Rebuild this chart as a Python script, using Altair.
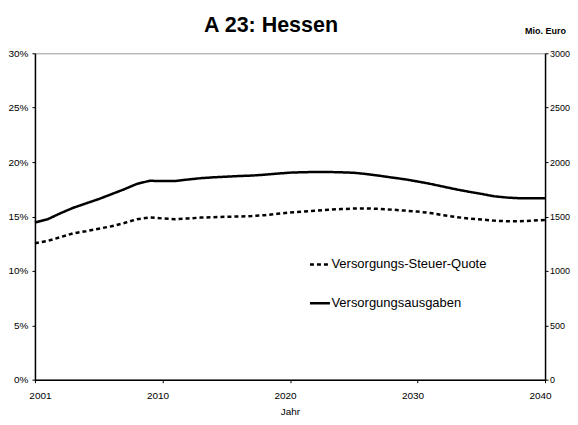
import altair as alt
import pandas as pd

# x positions on the (evenly spaced) year axis; first tick is labelled 2001
jahr = list(range(2000, 2041))

# Versorgungs-Steuer-Quote in % (left axis)
quote = [12.55, 12.75, 13.10, 13.45, 13.65, 13.88, 14.10, 14.40, 14.75, 14.92,
         14.82, 14.75, 14.82, 14.90, 14.94, 14.97, 15.00, 15.04, 15.12, 15.25,
         15.37, 15.45, 15.54, 15.62, 15.68, 15.73, 15.74, 15.70, 15.63, 15.54,
         15.45, 15.32, 15.12, 14.95, 14.82, 14.72, 14.62, 14.56, 14.56, 14.62,
         14.68]

# Versorgungsausgaben in Mio. Euro (right axis)
ausgaben = [1445, 1475, 1530, 1580, 1620, 1660, 1705, 1750, 1800, 1828,
            1826, 1826, 1840, 1852, 1860, 1866, 1872, 1876, 1884, 1894,
            1903, 1907, 1909, 1909, 1906, 1902, 1890, 1875, 1858, 1842,
            1822, 1800, 1775, 1750, 1728, 1708, 1686, 1674, 1668, 1667,
            1668]

series = ["Versorgungs-Steuer-Quote", "Versorgungsausgaben"]
x_ticks = [2000, 2010, 2020, 2030, 2040]
x_tick_labels = ["2001", "2010", "2020", "2030", "2040"]
left_ticks = [0, 5, 10, 15, 20, 25, 30]
right_ticks = [0, 500, 1000, 1500, 2000, 2500, 3000]

df_q = pd.DataFrame({"Jahr": jahr, "Wert": quote, "Serie": series[0]})
df_a = pd.DataFrame({"Jahr": jahr, "Wert": ausgaben, "Serie": series[1]})

FONT = "Liberation Sans"

label_expr = "".join(
    f"datum.value == {v} ? '{l}' : " for v, l in zip(x_ticks, x_tick_labels)
) + "datum.label"

legend = alt.Legend(
    title=None, orient="none", legendX=274, legendY=200,
    symbolType="stroke", symbolSize=400, symbolStrokeWidth=2.5,
    labelFont=FONT, labelFontSize=13, labelColor="#000000",
    labelOffset=0, rowPadding=20, padding=0,
)
color_enc = alt.Color("Serie:N", scale=alt.Scale(domain=series, range=["#000000", "#000000"]), legend=legend)
dash_enc = alt.StrokeDash("Serie:N", scale=alt.Scale(domain=series, range=[[4, 3], [1, 0]]), legend=legend)

x_enc = alt.X(
    "Jahr:Q",
    scale=alt.Scale(domain=[2000, 2040], nice=False, zero=False),
    axis=alt.Axis(values=x_ticks, labelExpr=label_expr, title="Jahr",
                  labelPadding=8, titlePadding=6, tickSize=3, labelFlush=False,
                  labelOffset={"condition": {"test": "datum.value == 2000", "value": 5}, "value": -5}),
)

left = alt.Chart(df_q).mark_line(strokeWidth=2.5).encode(
    x=x_enc,
    y=alt.Y("Wert:Q", scale=alt.Scale(domain=[0, 30], nice=False),
            axis=alt.Axis(orient="left", values=left_ticks, labelExpr="datum.value + '%'",
                          title=None, tickSize=3, labelPadding=4)),
    color=color_enc,
    strokeDash=dash_enc,
)

right = alt.Chart(df_a).mark_line(strokeWidth=2.5).encode(
    x=x_enc,
    y=alt.Y("Wert:Q", scale=alt.Scale(domain=[0, 3000], nice=False),
            axis=alt.Axis(orient="right", values=right_ticks, format="d",
                          title="Mio. Euro", titleAngle=0, titleX=0, titleY=-23,
                          titleAlign="center", titleBaseline="middle",
                          titleFontWeight="bold", titleFontSize=9,
                          tickSize=3, labelPadding=1.5, labelFontSize=9)),
    color=color_enc,
    strokeDash=dash_enc,
)

chart = (
    alt.layer(left, right)
    .resolve_scale(y="independent")
    .properties(
        width=511, height=327,
        title=alt.TitleParams("A 23: Hessen", font=FONT, fontSize=21.5, fontWeight="bold",
                              color="#000000", anchor="middle", dx=-19, offset=-10),
        autosize=alt.AutoSizeParams(type="none"),
        padding={"left": 27, "top": 45, "right": 25, "bottom": 37},
    )
    .configure_view(stroke="#999999", strokeWidth=1)
    .configure_axis(
        grid=False, domainColor="#000000", domainWidth=1.5, tickColor="#000000",
        tickWidth=1, labelFont=FONT, labelFontSize=10, labelColor="#000000",
        titleFont=FONT, titleFontSize=10, titleColor="#000000", titleFontWeight="normal",
    )
)

chart.save("out.html", embed_options={"renderer": "svg", "actions": False})
